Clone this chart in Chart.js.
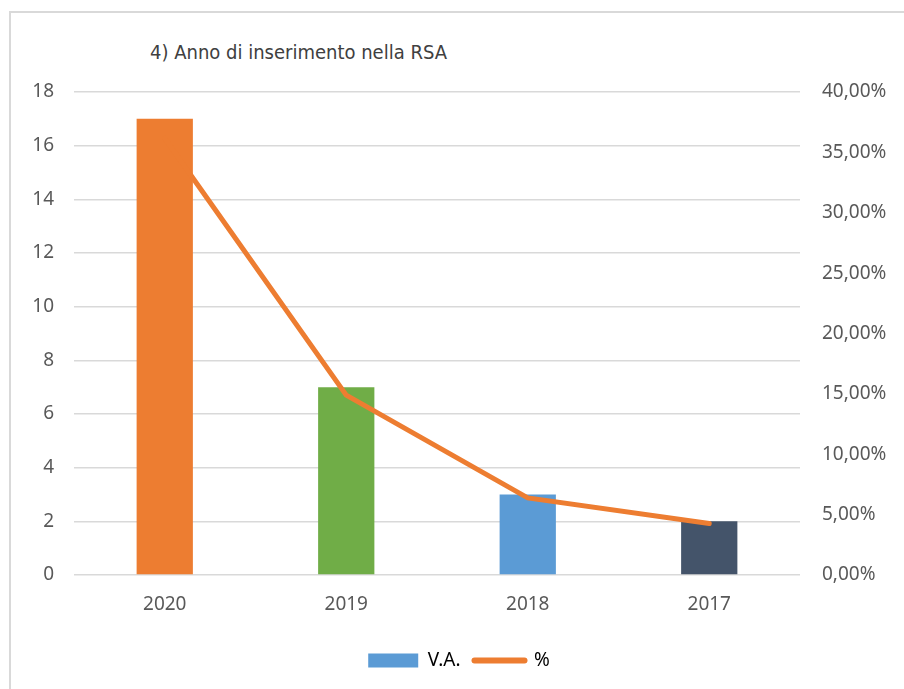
<!DOCTYPE html>
<html>
<head>
<meta charset="utf-8">
<script src="https://cdn.jsdelivr.net/npm/chart.js@4"></script>
<style>
  html, body { margin: 0; padding: 0; background: #fff; }
  #wrap { position: relative; width: 904px; height: 689px; overflow: hidden; }
  #frame { position: absolute; left: 9px; top: 11px; right: -5px; bottom: -5px; border: 2px solid #d9d9d9; }
  #title { position: absolute; left: 150px; top: 40px; font: 20px "Liberation Sans Narrow", "DejaVu Sans Condensed", sans-serif; color: #404040; }
  canvas { position: absolute; left: 0; top: 0; }
</style>
</head>
<body>
<div id="wrap">
  <div id="frame"></div>
  <div id="title">4) Anno di inserimento nella RSA</div>
  <canvas id="c" width="904" height="689"></canvas>
</div>
<script>
const years = ["2020", "2019", "2018", "2017"]
const countValues = [17, 7, 3, 2]
const percentValues = [0.3617, 0.1489, 0.0638, 0.0426]
const barColors = ["#ED7D31", "#70AD47", "#5B9BD5", "#44546A"]
const lineColor = "#ED7D31"

const tickFont = { family: "'Noto Sans', sans-serif", size: 19 }
const tickColor = "#595959"

// nudge the legend a bit to the right, like the original
const legendShift = {
  id: "legendShift",
  beforeDraw(chart) {
    chart.legend.left += 7
    chart.legend.right += 7
  }
}

new Chart(document.getElementById("c"), {
  data: {
    labels: years,
    datasets: [
      {
        type: "line",
        label: "%",
        data: percentValues,
        yAxisID: "y1",
        borderColor: lineColor,
        backgroundColor: lineColor,
        borderWidth: 5,
        borderCapStyle: "round",
        pointRadius: 0,
        tension: 0,
        order: 0
      },
      {
        type: "bar",
        label: "V.A.",
        data: countValues,
        yAxisID: "y",
        backgroundColor: barColors,
        categoryPercentage: 1,
        barPercentage: 0.31,
        order: 1
      }
    ]
  },
  plugins: [legendShift],
  options: {
    responsive: false,
    animation: false,
    layout: { padding: { left: 0, right: 0, top: 92, bottom: 9 } },
    plugins: {
      tooltip: { enabled: false },
      legend: {
        position: "bottom",
        labels: {
          usePointStyle: true,
          pointStyleWidth: 50,
          boxHeight: 14,
          padding: 14,
          color: tickColor,
          font: tickFont,
          generateLabels(chart) {
            return [
              { text: "V.A.", pointStyle: "rect", fillStyle: "#5B9BD5", strokeStyle: "#5B9BD5", lineWidth: 0, datasetIndex: 1 },
              { text: "%", pointStyle: "line", fillStyle: lineColor, strokeStyle: lineColor, lineWidth: 6, lineCap: "round", datasetIndex: 0 }
            ]
          }
        }
      }
    },
    scales: {
      x: {
        afterFit: s => { s.height = 62 },
        grid: { display: false },
        border: { display: false },
        ticks: { color: tickColor, font: tickFont, padding: 10 }
      },
      y: {
        position: "left",
        min: 0,
        max: 18,
        afterFit: s => { s.width = 74 },
        ticks: { stepSize: 2, color: tickColor, font: tickFont, padding: 20 },
        grid: { color: "#d9d9d9", lineWidth: 1.5, drawTicks: false },
        border: { display: false }
      },
      y1: {
        position: "right",
        min: 0,
        max: 0.4,
        afterFit: s => { s.width = 104 },
        ticks: {
          stepSize: 0.05,
          color: tickColor,
          font: tickFont,
          padding: 22,
          callback: v => (v * 100).toFixed(2).replace(".", ",") + "%"
        },
        grid: { display: false, drawTicks: false },
        border: { display: false }
      }
    }
  }
})
</script>
</body>
</html>
